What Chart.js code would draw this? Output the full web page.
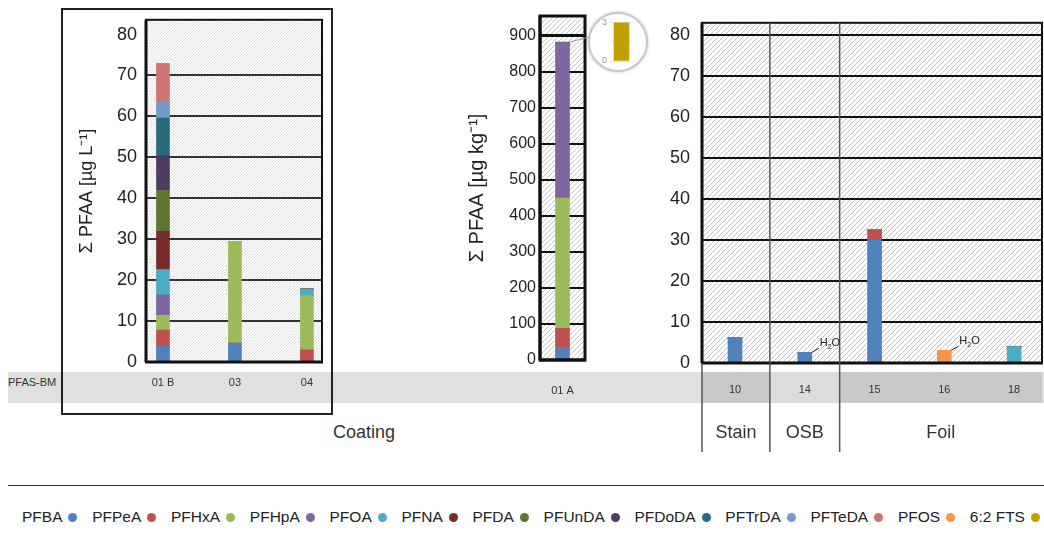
<!DOCTYPE html>
<html>
<head>
<meta charset="utf-8">
<script src="https://cdn.jsdelivr.net/npm/chart.js@4/dist/chart.umd.min.js"></script>
<style>
  body { margin: 0; width: 1044px; height: 536px; background: #fff; position: relative; overflow: hidden;
         font-family: "Liberation Sans", Arial, sans-serif; color: #222; }
  .abs { position: absolute; }
  #band { left: 8px; top: 372px; width: 1036px; height: 31px; background: #e0e0e0; }
  #bandTitle { left: 8px; top: 375px; font-size: 11px; line-height: 14px; color: #333; }
  #coatingBox { left: 61px; top: 8px; width: 268px; height: 403px; border: 2px solid #222; }
  #coatingLabel { left: 333px; top: 422px; font-size: 18px; line-height: 20px; color: #333; }
  #lens { left: 588px; top: 12px; width: 56px; height: 56px; border: 2px solid #c9c9c9; border-radius: 50%;
          overflow: hidden; background: #fff; box-shadow: 0 0 3px rgba(0,0,0,0.25); }
  #legendRule { left: 8px; top: 485px; width: 1036px; height: 0; border-top: 1.5px solid #333; }
  #legend { left: 22px; top: 508px; width: 1018px; display: flex; justify-content: space-between;
            font-size: 15.5px; line-height: 18px; color: #222; }
  #legend .item { display: flex; align-items: center; }
  #legend i { display: inline-block; width: 9px; height: 9px; border-radius: 50%; margin-left: 6px; }
  canvas { position: absolute; }
</style>
</head>
<body>
<div id="band" class="abs"></div>
<div id="bandTitle" class="abs">PFAS-BM</div>
<div id="coatingBox" class="abs"></div>
<div id="coatingLabel" class="abs">Coating</div>
<canvas id="coatingChart" width="270" height="410" style="left:62px;top:0"></canvas>
<canvas id="kgChart" width="145" height="410" style="left:455px;top:0"></canvas>
<div id="lens" class="abs"><canvas id="lensChart" width="56" height="56" style="left:0;top:0"></canvas></div>
<canvas id="productChart" width="389" height="456" style="left:655px;top:0"></canvas>
<div id="legendRule" class="abs"></div>
<div id="legend" class="abs"></div>

<script>
// Compounds (stack order, bottom to top) and their colours
const compounds = ['PFBA', 'PFPeA', 'PFHxA', 'PFHpA', 'PFOA', 'PFNA', 'PFDA', 'PFUnDA',
                   'PFDoDA', 'PFTrDA', 'PFTeDA', 'PFOS', '6:2 FTS'];
const compoundColors = ['#4f81bd', '#c0504d', '#9bbb59', '#8064a2', '#4bacc6', '#772c2a', '#5f7530',
                        '#4d3b62', '#276a7c', '#729aca', '#cd7371', '#f79646', '#c0a000'];

// Coating samples, µg/L, one value per compound
const sample01B = [3.8, 4.0, 3.6, 5.0, 6.2, 9.3, 10.0, 8.5, 9.2, 4.0, 9.3, 0, 0];
const sample03  = [4.6, 0, 24.9, 0, 0, 0, 0, 0, 0, 0, 0, 0, 0];
const sample04  = [0, 3.0, 13.2, 0, 1.6, 0, 0, 0, 0, 0, 0, 0, 0];

// Solid samples, µg/kg, one value per compound
const sample01A = [35, 53, 361, 430, 0, 0, 0, 0, 0, 0, 0, 0, 3];
const sample10  = [6.1, 0, 0, 0, 0, 0, 0, 0, 0, 0, 0, 0, 0];
const sample14  = [2.6, 0, 0, 0, 0, 0, 0, 0, 0, 0, 0, 0, 0];
const sample15  = [30.0, 2.4, 0, 0, 0, 0, 0, 0, 0, 0, 0, 0, 0];
const sample16  = [0, 0, 0, 0, 0, 0, 0, 0, 0, 0, 0, 3.1, 0];
const sample18  = [0, 0, 0, 0, 4.0, 0, 0, 0, 0, 0, 0, 0, 0];

// Sample codes per panel
const coatingSamples = ['01 B', '03', '04'];
const coatingRows = [sample01B, sample03, sample04];
const kgSamples = ['01 A'];
const kgRows = [sample01A];
const productSamples = ['10', '14', '15', '16', '18'];
const productRows = [sample10, sample14, sample15, sample16, sample18];

// Product groups of the right panel and samples measured in water
const groupNames = ['Stain', 'OSB', 'Foil'];
const groupSizes = [1, 1, 3];
const waterSamples = ['14', '16'];

// Axis ticks
const litreTicks = [0, 10, 20, 30, 40, 50, 60, 70, 80];
const kgTicks = [0, 100, 200, 300, 400, 500, 600, 700, 800, 900];

const FONT = '"Liberation Sans", Arial, sans-serif';
Chart.defaults.font.family = FONT;
Chart.defaults.color = '#222';
Chart.defaults.animation = false;
Chart.defaults.responsive = false;
Chart.defaults.devicePixelRatio = 1;
Chart.defaults.plugins.legend.display = false;
Chart.defaults.plugins.tooltip.enabled = false;

const sum = arr => arr.reduce((a, b) => a + b, 0);

function hatchTile(step, ink) {
  const c = document.createElement('canvas');
  c.width = c.height = step;
  const g = c.getContext('2d');
  g.fillStyle = '#fff';
  g.fillRect(0, 0, step, step);
  g.strokeStyle = ink;
  g.lineWidth = 1;
  g.beginPath();
  g.moveTo(0, step); g.lineTo(step, 0);
  g.moveTo(-1, 1); g.lineTo(1, -1);
  g.moveTo(step - 1, step + 1); g.lineTo(step + 1, step - 1);
  g.stroke();
  return c;
}

// hatched plot background + plot frame
const panelFrame = {
  id: 'panelFrame',
  beforeDraw(chart, args, o) {
    const { ctx, chartArea: a } = chart;
    ctx.save();
    ctx.fillStyle = ctx.createPattern(hatchTile(o.step, o.ink), 'repeat');
    ctx.fillRect(a.left, a.top, a.width, a.height);
    ctx.restore();
  },
  afterDatasetsDraw(chart, args, o) {
    const { ctx, chartArea: a } = chart;
    ctx.save();
    ctx.strokeStyle = '#111';
    ctx.lineWidth = o.frame;
    ctx.strokeRect(a.left, a.top, a.width, a.height);
    ctx.lineWidth = o.axis;
    ctx.beginPath();
    ctx.moveTo(a.left - 1, a.bottom); ctx.lineTo(a.right + 1, a.bottom);
    ctx.moveTo(a.left, a.top); ctx.lineTo(a.left, a.bottom);
    ctx.stroke();
    ctx.restore();
  }
};

function stackedSets(rows, linearX, thickness) {
  return compounds.map((name, k) => ({
    label: name,
    backgroundColor: compoundColors[k],
    borderWidth: 0,
    barThickness: thickness,
    data: rows.map((row, i) => linearX ? { x: i, y: row[k] } : row[k])
  }));
}

function fixedTicks(values) {
  return scale => { scale.ticks = values.map(v => ({ value: v })); };
}

// ---------- coating panel (µg/L) ----------
new Chart(document.getElementById('coatingChart'), {
  type: 'bar',
  data: { datasets: stackedSets(coatingRows, true, 13) },
  options: {
    layout: { padding: { top: 17, right: 10, left: 0, bottom: 0 } },
    scales: {
      x: {
        type: 'linear', stacked: true, offset: false, min: -0.236, max: 2.21,
        afterBuildTicks: fixedTicks(coatingSamples.map((_, i) => i)),
        afterFit: s => { s.height = 48; },
        grid: { display: false }, border: { display: false },
        ticks: { callback: v => coatingSamples[v], padding: 6, font: { size: 11 }, color: '#333',
                 maxRotation: 0, autoSkip: false }
      },
      y: {
        stacked: true, min: 0, max: 83.6,
        afterBuildTicks: fixedTicks(litreTicks),
        afterFit: s => { s.width = 84; },
        ticks: { padding: 9, font: { size: 18 }, color: '#222' },
        grid: { color: c => (c.tick.value === 0 || c.tick.value === 80) ? 'rgba(0,0,0,0)' : '#333',
                lineWidth: 2, drawTicks: false },
        border: { display: false },
        title: { display: true, text: 'Σ PFAA [µg L⁻¹]', font: { size: 18 }, color: '#222',
                 padding: { top: 14, bottom: 0 } }
      }
    },
    plugins: { panelFrame: { step: 3, ink: '#dcdcdc', frame: 2, axis: 3 } }
  },
  plugins: [panelFrame]
});

// ---------- 01 A panel (µg/kg) with a pointer to the magnified top ----------
const lensPointer = {
  id: 'lensPointer',
  afterDraw(chart) {
    const { ctx, chartArea: a } = chart;
    const x = chart.scales.x.getPixelForValue(0);
    const y = chart.scales.y.getPixelForValue(sum(kgRows[0]));
    ctx.save();
    ctx.strokeStyle = '#a0a0a0';
    ctx.lineWidth = 1;
    ctx.beginPath();
    ctx.moveTo(x + 7, y);
    ctx.lineTo(a.right + 5, y - 5);
    ctx.stroke();
    ctx.restore();
  }
};

new Chart(document.getElementById('kgChart'), {
  type: 'bar',
  data: { labels: kgSamples, datasets: stackedSets(kgRows, false, 14) },
  options: {
    layout: { padding: { top: 16, right: 15, left: 0, bottom: 0 } },
    scales: {
      x: {
        stacked: true,
        afterFit: s => { s.height = 50; },
        grid: { display: false }, border: { display: false },
        ticks: { padding: 16, font: { size: 11 }, color: '#333', maxRotation: 0 }
      },
      y: {
        stacked: true, min: 0, max: 954,
        afterBuildTicks: fixedTicks(kgTicks),
        afterFit: s => { s.width = 85; },
        ticks: { padding: 4, font: { size: 16 }, color: '#222' },
        grid: { color: c => c.tick.value === 0 ? 'rgba(0,0,0,0)' : '#111',
                lineWidth: c => c.tick.value === 900 ? 3 : 2, drawTicks: false },
        border: { display: false },
        title: { display: true, text: 'Σ PFAA [µg kg⁻¹]', font: { size: 20 }, color: '#222',
                 padding: { top: 10, bottom: 0 } }
      }
    },
    plugins: { panelFrame: { step: 5, ink: '#c8c8c8', frame: 3, axis: 3 } }
  },
  plugins: [panelFrame, lensPointer]
});

// ---------- magnified top of 01 A (6:2 FTS) ----------
new Chart(document.getElementById('lensChart'), {
  type: 'bar',
  data: { labels: kgSamples, datasets: [{ data: [sample01A[12]], backgroundColor: compoundColors[12],
                                          borderWidth: 0, barThickness: 15 }] },
  options: {
    layout: { padding: { top: 7, right: 13, left: 0, bottom: 9 } },
    scales: {
      x: { display: false },
      y: {
        min: 0, max: 3,
        afterBuildTicks: fixedTicks([0, 0.5, 1, 1.5, 2, 2.5, 3]),
        afterFit: s => { s.width = 20; },
        ticks: { callback: v => (v === 0 || v === 3) ? String(v) : '', font: { size: 9 }, color: '#999', padding: 3 },
        grid: { color: '#e6e6e6', drawTicks: false },
        border: { display: false }
      }
    }
  }
});

// ---------- product panel: groups, shaded code cells, water notes ----------
const bandTop = 372, bandBottom = 403, groupRuleBottom = 452, groupLabelBaseline = 438;
const groupShade = ['#c9c9c9', '#dcdcdc', '#c9c9c9'];

function groupEdges(chart) {
  const a = chart.chartArea, xs = chart.scales.x;
  let start = 0;
  return groupSizes.map((n, g) => {
    const left = g === 0 ? a.left : xs.getPixelForValue(start - 0.5);
    const right = g === groupSizes.length - 1 ? a.right : xs.getPixelForValue(start + n - 0.5);
    start += n;
    return [left, right];
  });
}

const productGroups = {
  id: 'productGroups',
  beforeDraw(chart) {
    const { ctx } = chart;
    ctx.save();
    groupEdges(chart).forEach(([left, right], g) => {
      ctx.fillStyle = groupShade[g];
      ctx.fillRect(left, bandTop, right - left, bandBottom - bandTop);
    });
    ctx.restore();
  },
  afterDraw(chart) {
    const { ctx, chartArea: a } = chart;
    const xs = chart.scales.x;
    ctx.save();
    ctx.strokeStyle = '#555';
    ctx.lineWidth = 1.5;
    ctx.fillStyle = '#333';
    ctx.font = '18px ' + FONT;
    ctx.textAlign = 'center';
    ctx.textBaseline = 'alphabetic';
    const edges = groupEdges(chart);
    edges.forEach(([left, right], g) => {
      if (g === 0) {
        ctx.beginPath(); ctx.moveTo(left, a.bottom); ctx.lineTo(left, groupRuleBottom); ctx.stroke();
      }
      if (g < edges.length - 1) {
        ctx.beginPath(); ctx.moveTo(right, a.top); ctx.lineTo(right, groupRuleBottom); ctx.stroke();
      }
      ctx.fillText(groupNames[g], (left + right) / 2, groupLabelBaseline);
    });
    // H2O notes for the samples analysed in water
    ctx.strokeStyle = '#222';
    ctx.lineWidth = 1;
    ctx.fillStyle = '#222';
    ctx.textAlign = 'left';
    waterSamples.forEach(code => {
      const i = productSamples.indexOf(code);
      const x = xs.getPixelForValue(i) + 7;
      const y = chart.scales.y.getPixelForValue(sum(productRows[i]));
      ctx.beginPath(); ctx.moveTo(x, y); ctx.lineTo(x + 7, y - 4); ctx.stroke();
      ctx.font = '11px ' + FONT;
      ctx.fillText('H', x + 8, y - 6);
      const wH = ctx.measureText('H').width;
      ctx.font = '7px ' + FONT;
      ctx.fillText('2', x + 8 + wH, y - 3);
      const w2 = ctx.measureText('2').width;
      ctx.font = '11px ' + FONT;
      ctx.fillText('O', x + 8 + wH + w2, y - 6);
    });
    ctx.restore();
  }
};

new Chart(document.getElementById('productChart'), {
  type: 'bar',
  data: { datasets: stackedSets(productRows, true, 14) },
  options: {
    layout: { padding: { top: 18, right: 2, left: 0, bottom: 0 } },
    scales: {
      x: {
        type: 'linear', stacked: true, offset: false, min: -0.473, max: 4.40,
        afterBuildTicks: fixedTicks(productSamples.map((_, i) => i)),
        afterFit: s => { s.height = 93; },
        grid: { display: false }, border: { display: false },
        ticks: { callback: v => productSamples[v], padding: 12, font: { size: 11 }, color: '#333',
                 maxRotation: 0, autoSkip: false }
      },
      y: {
        stacked: true, min: 0, max: 83,
        afterBuildTicks: fixedTicks(litreTicks),
        afterFit: s => { s.width = 47; },
        ticks: { padding: 12, font: { size: 18 }, color: '#222' },
        grid: { color: c => c.tick.value === 0 ? 'rgba(0,0,0,0)' : '#111', lineWidth: 2, drawTicks: false },
        border: { display: false }
      }
    },
    plugins: { panelFrame: { step: 5, ink: '#c4c4c4', frame: 2, axis: 3 } }
  },
  plugins: [panelFrame, productGroups]
});

// ---------- legend: name followed by a coloured dot ----------
const legend = document.getElementById('legend');
compounds.forEach((name, k) => {
  const item = document.createElement('span');
  item.className = 'item';
  const label = document.createElement('span');
  label.textContent = name;
  const dot = document.createElement('i');
  dot.style.background = compoundColors[k];
  item.appendChild(label);
  item.appendChild(dot);
  legend.appendChild(item);
});
</script>
</body>
</html>
